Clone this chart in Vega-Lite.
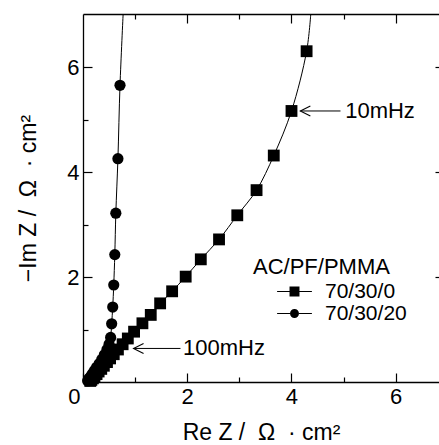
{
  "$schema": "https://vega.github.io/schema/vega-lite/v6.json",
  "width": 356,
  "height": 368,
  "autosize": {"type": "none"},
  "padding": {"left": 83, "top": 14, "right": 0, "bottom": 63},
  "background": "white",
  "config": {
    "view": {"stroke": null},
    "font": "Liberation Sans",
    "axis": {
      "grid": false,
      "domainColor": "black",
      "domainWidth": 1.3,
      "tickColor": "black",
      "tickWidth": 1.2,
      "labelColor": "black",
      "labelFont": "Liberation Sans",
      "labelFontSize": 22,
      "titleFont": "Liberation Sans",
      "titleFontSize": 23,
      "titleFontWeight": "normal",
      "titleColor": "black"
    }
  },
  "datasets": {
    "curves": [
      {"series": "70/30/0", "i": 0, "re": 0.14, "im": 0.02, "marker": true},
      {"series": "70/30/0", "i": 1, "re": 0.16, "im": 0.04, "marker": true},
      {"series": "70/30/0", "i": 2, "re": 0.19, "im": 0.07, "marker": true},
      {"series": "70/30/0", "i": 3, "re": 0.22, "im": 0.11, "marker": true},
      {"series": "70/30/0", "i": 4, "re": 0.26, "im": 0.15, "marker": true},
      {"series": "70/30/0", "i": 5, "re": 0.30, "im": 0.20, "marker": true},
      {"series": "70/30/0", "i": 6, "re": 0.35, "im": 0.25, "marker": true},
      {"series": "70/30/0", "i": 7, "re": 0.40, "im": 0.31, "marker": true},
      {"series": "70/30/0", "i": 8, "re": 0.46, "im": 0.38, "marker": true},
      {"series": "70/30/0", "i": 9, "re": 0.52, "im": 0.45, "marker": true},
      {"series": "70/30/0", "i": 10, "re": 0.59, "im": 0.53, "marker": true},
      {"series": "70/30/0", "i": 11, "re": 0.67, "im": 0.62, "marker": true},
      {"series": "70/30/0", "i": 12, "re": 0.76, "im": 0.72, "marker": true},
      {"series": "70/30/0", "i": 13, "re": 0.86, "im": 0.83, "marker": true},
      {"series": "70/30/0", "i": 14, "re": 0.98, "im": 0.96, "marker": true},
      {"series": "70/30/0", "i": 15, "re": 1.14, "im": 1.12, "marker": true},
      {"series": "70/30/0", "i": 16, "re": 1.30, "im": 1.28, "marker": true},
      {"series": "70/30/0", "i": 17, "re": 1.48, "im": 1.50, "marker": true},
      {"series": "70/30/0", "i": 18, "re": 1.71, "im": 1.73, "marker": true},
      {"series": "70/30/0", "i": 19, "re": 1.97, "im": 2.01, "marker": true},
      {"series": "70/30/0", "i": 20, "re": 2.26, "im": 2.34, "marker": true},
      {"series": "70/30/0", "i": 21, "re": 2.61, "im": 2.72, "marker": true},
      {"series": "70/30/0", "i": 22, "re": 2.96, "im": 3.18, "marker": true},
      {"series": "70/30/0", "i": 23, "re": 3.33, "im": 3.66, "marker": true},
      {"series": "70/30/0", "i": 24, "re": 3.66, "im": 4.32, "marker": true},
      {"series": "70/30/0", "i": 25, "re": 4.00, "im": 5.17, "marker": true},
      {"series": "70/30/0", "i": 26, "re": 4.29, "im": 6.31, "marker": true},
      {"series": "70/30/0", "i": 27, "re": 4.37, "im": 7.02, "marker": false},
      {"series": "70/30/20", "i": 0, "re": 0.09, "im": 0.02, "marker": true},
      {"series": "70/30/20", "i": 1, "re": 0.10, "im": 0.04, "marker": true},
      {"series": "70/30/20", "i": 2, "re": 0.12, "im": 0.07, "marker": true},
      {"series": "70/30/20", "i": 3, "re": 0.15, "im": 0.11, "marker": true},
      {"series": "70/30/20", "i": 4, "re": 0.18, "im": 0.16, "marker": true},
      {"series": "70/30/20", "i": 5, "re": 0.22, "im": 0.22, "marker": true},
      {"series": "70/30/20", "i": 6, "re": 0.26, "im": 0.28, "marker": true},
      {"series": "70/30/20", "i": 7, "re": 0.31, "im": 0.35, "marker": true},
      {"series": "70/30/20", "i": 8, "re": 0.36, "im": 0.43, "marker": true},
      {"series": "70/30/20", "i": 9, "re": 0.41, "im": 0.52, "marker": true},
      {"series": "70/30/20", "i": 10, "re": 0.46, "im": 0.62, "marker": true},
      {"series": "70/30/20", "i": 11, "re": 0.50, "im": 0.72, "marker": true},
      {"series": "70/30/20", "i": 12, "re": 0.53, "im": 0.85, "marker": true},
      {"series": "70/30/20", "i": 13, "re": 0.55, "im": 1.11, "marker": true},
      {"series": "70/30/20", "i": 14, "re": 0.57, "im": 1.43, "marker": true},
      {"series": "70/30/20", "i": 15, "re": 0.59, "im": 1.85, "marker": true},
      {"series": "70/30/20", "i": 16, "re": 0.61, "im": 2.43, "marker": true},
      {"series": "70/30/20", "i": 17, "re": 0.63, "im": 3.22, "marker": true},
      {"series": "70/30/20", "i": 18, "re": 0.67, "im": 4.26, "marker": true},
      {"series": "70/30/20", "i": 19, "re": 0.71, "im": 5.66, "marker": true},
      {"series": "70/30/20", "i": 20, "re": 0.77, "im": 7.02, "marker": false}
    ],
    "notes": [
      {"label": "10mHz", "tip": 4.17, "tail": 4.94, "textx": 5.03, "im": 5.17},
      {"label": "100mHz", "tip": 0.97, "tail": 1.87, "textx": 1.92, "im": 0.64}
    ]
  },
  "layer": [
    {
      "data": {"name": "curves"},
      "mark": {"type": "line", "color": "black", "strokeWidth": 1, "interpolate": "catmull-rom", "clip": true},
      "encoding": {
        "x": {
          "field": "re", "type": "quantitative",
          "scale": {"domain": [0, 6.83], "nice": false, "zero": false},
          "axis": {
            "orient": "bottom",
            "values": [0, 1, 2, 3, 4, 5, 6],
            "labelExpr": "datum.value % 2 == 0 ? datum.label : ''",
            "tickSize": {"condition": {"test": "datum.value % 2 == 0", "value": -9}, "value": -5},
            "labelAlign": {"condition": {"test": "datum.value == 0", "value": "right"}, "value": "center"},
            "labelOffset": {"condition": {"test": "datum.value == 0", "value": -3}, "value": 0},
            "labelPadding": 13,
            "title": "Re Z /\u00a0 Ω\u00a0 · cm²",
            "titlePadding": 14
          }
        },
        "y": {
          "field": "im", "type": "quantitative",
          "scale": {"domain": [0, 7.02], "nice": false, "zero": false},
          "axis": {
            "orient": "left",
            "values": [0, 1, 2, 3, 4, 5, 6],
            "labelExpr": "datum.value % 2 == 0 && datum.value > 0 ? datum.label : ''",
            "tickSize": {"condition": {"test": "datum.value % 2 == 0", "value": -9}, "value": -5},
            "labelPadding": 13,
            "title": "−Im Z /\u00a0 Ω\u00a0 · cm²",
            "titlePadding": 26
          }
        },
        "detail": {"field": "series"},
        "order": {"field": "i", "type": "quantitative"}
      }
    },
    {
      "data": {"name": "curves"},
      "transform": [{"filter": "datum.marker && datum.series == '70/30/0'"}],
      "mark": {"type": "point", "shape": "square", "filled": true, "color": "black", "size": 140, "opacity": 1},
      "encoding": {
        "x": {
          "field": "re", "type": "quantitative",
          "axis": {
            "orient": "top",
            "values": [1, 2, 3, 4, 5, 6],
            "labels": false,
            "tickSize": {"condition": {"test": "datum.value % 2 == 0", "value": -9}, "value": -5},
            "title": null
          }
        },
        "y": {
          "field": "im", "type": "quantitative",
          "axis": {
            "orient": "right",
            "values": [2, 4, 6],
            "labels": false,
            "domain": false,
            "tickSize": -4,
            "title": null
          }
        }
      }
    },
    {
      "data": {"name": "curves"},
      "transform": [{"filter": "datum.marker && datum.series == '70/30/20'"}],
      "mark": {"type": "point", "shape": "circle", "filled": true, "color": "black", "size": 125, "opacity": 1},
      "encoding": {
        "x": {"field": "re", "type": "quantitative", "axis": null},
        "y": {"field": "im", "type": "quantitative", "axis": null}
      }
    },
    {
      "data": {"name": "curves"},
      "transform": [{"filter": "datum.marker"}],
      "mark": {"type": "point", "filled": true, "color": "black", "opacity": 0},
      "encoding": {
        "x": {"field": "re", "type": "quantitative", "axis": null},
        "y": {"field": "im", "type": "quantitative", "axis": null},
        "shape": {
          "field": "series", "type": "nominal",
          "scale": {
            "domain": ["70/30/0", "70/30/20"],
            "range": [
              "M-2.9,-0.09H-0.83V-0.83H0.83V-0.09H2.9V0.09H0.83V0.83H-0.83V0.09H-2.9Z",
              "M-2.9,-0.09H-0.75V0.09H-2.9Z M0.75,-0.09H2.9V0.09H0.75Z M-0.75,0A0.75,0.75,0,1,0,0.75,0A0.75,0.75,0,1,0,-0.75,0Z"
            ]
          },
          "legend": {
            "orient": "none",
            "legendX": 170,
            "legendY": 243,
            "title": "AC/PF/PMMA",
            "titleFont": "Liberation Sans",
            "titleFontSize": 22,
            "titleFontWeight": "normal",
            "titleColor": "black",
            "titlePadding": 2,
            "labelFont": "Liberation Sans",
            "labelFontSize": 21,
            "labelColor": "black",
            "symbolSize": 144,
            "symbolFillColor": "black",
            "symbolStrokeColor": "black",
            "symbolStrokeWidth": 0,
            "symbolOpacity": 1,
            "symbolOffset": 31,
            "labelOffset": 20,
            "rowPadding": 0
          }
        }
      }
    },
    {
      "data": {"name": "notes"},
      "mark": {"type": "rule", "color": "black", "strokeWidth": 1},
      "encoding": {
        "x": {"field": "tip", "type": "quantitative", "axis": null},
        "x2": {"field": "tail"},
        "y": {"field": "im", "type": "quantitative", "axis": null}
      }
    },
    {
      "data": {"name": "notes"},
      "mark": {"type": "point", "shape": "M2,-1L0,0L2,1", "filled": false, "color": "black", "strokeWidth": 1.1, "size": 100, "opacity": 1},
      "encoding": {
        "x": {"field": "tip", "type": "quantitative", "axis": null},
        "y": {"field": "im", "type": "quantitative", "axis": null}
      }
    },
    {
      "data": {"name": "notes"},
      "mark": {"type": "text", "align": "left", "baseline": "middle", "font": "Liberation Sans", "fontSize": 22, "color": "black"},
      "encoding": {
        "x": {"field": "textx", "type": "quantitative", "axis": null},
        "y": {"field": "im", "type": "quantitative", "axis": null},
        "text": {"field": "label"}
      }
    }
  ]
}
